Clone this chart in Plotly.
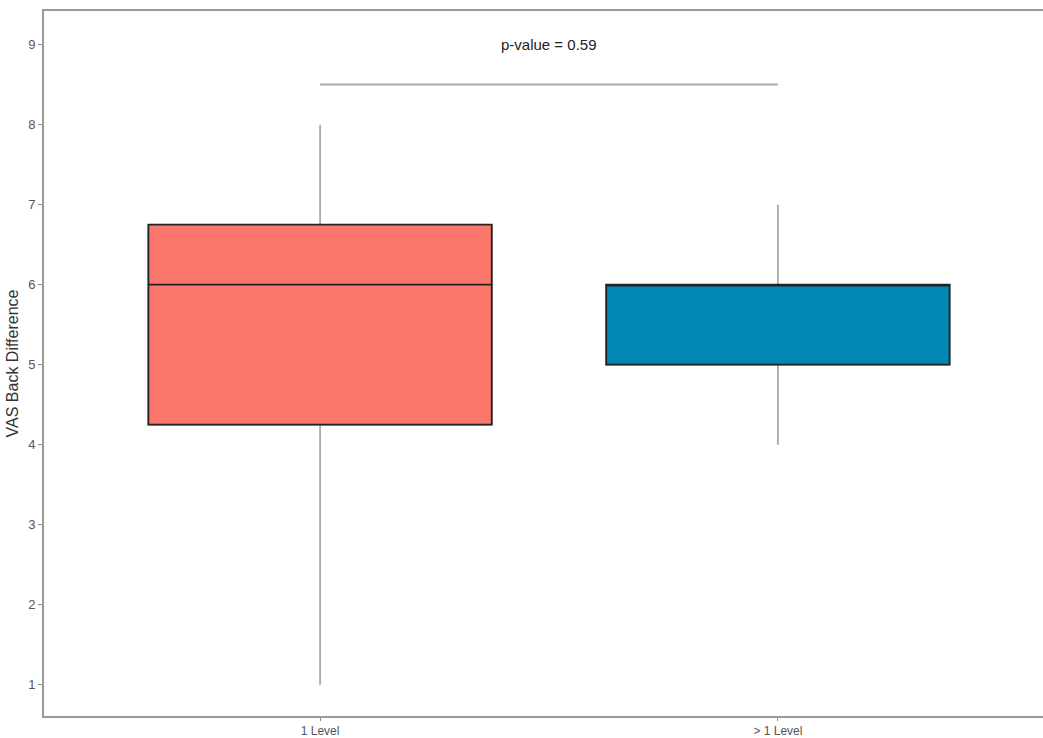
import plotly.graph_objects as go

categories = ["1 Level", "> 1 Level"]
lower_whisker = [1, 4]
q1_vals = [4.25, 5]
medians = [6, 6]
q3_vals = [6.75, 6]
upper_whisker = [8, 7]
fill_colors = ["#FC776B", "#0087B4"]
p_text = "p-value = 0.59"
bracket_y = 8.5
p_y = 9.0
y_ticks = [1, 2, 3, 4, 5, 6, 7, 8, 9]

fig = go.Figure()
for i, cat in enumerate(categories):
    # whiskers (gray)
    fig.add_trace(go.Box(
        x=[cat], q1=[q1_vals[i]], median=[medians[i]], q3=[q3_vals[i]],
        lowerfence=[lower_whisker[i]], upperfence=[upper_whisker[i]],
        fillcolor=fill_colors[i], line=dict(color="#999999", width=1.5),
        whiskerwidth=0, width=0.75, showlegend=False, hoverinfo="skip"))
    # box body (black outline)
    fig.add_trace(go.Box(
        x=[cat], q1=[q1_vals[i]], median=[medians[i]], q3=[q3_vals[i]],
        lowerfence=[q1_vals[i]], upperfence=[q3_vals[i]],
        fillcolor=fill_colors[i], line=dict(color="#222222", width=1.8),
        whiskerwidth=0, width=0.75, showlegend=False))

# significance bracket
fig.add_trace(go.Scatter(x=categories, y=[bracket_y, bracket_y], mode="lines",
                         line=dict(color="#AAAAAA", width=2), showlegend=False, hoverinfo="skip"))
fig.add_annotation(x=0.5, y=p_y, xref="x", yref="y", text=p_text, showarrow=False,
                   font=dict(family="Liberation Sans, Arial", size=15, color="#222222"))

fig.update_layout(
    width=1043, height=738, plot_bgcolor="white", paper_bgcolor="white",
    margin=dict(l=44, r=0, t=11, b=22), boxmode="overlay",
    font=dict(family="Liberation Sans, Arial", color="#555555"),
    xaxis=dict(type="category", range=[-0.603, 1.579], showline=True, mirror=True,
               linecolor="#999999", linewidth=2, ticks="outside", ticklen=3,
               tickcolor="#888888", showgrid=False, zeroline=False, automargin=False,
               ticklabelstandoff=0,
               tickfont=dict(size=12, color="#555555")),
    yaxis=dict(range=[0.61, 9.42], tickvals=y_ticks, showline=True, linecolor="#999999",
               linewidth=2, ticks="outside", ticklen=4, tickcolor="#888888",
               showgrid=False, zeroline=False, automargin=False,
               tickfont=dict(size=13, color="#555555"),
               title=dict(text="VAS Back Difference", font=dict(size=16, color="#333333"),
                          standoff=6)),
)
fig.write_html("out.html")
